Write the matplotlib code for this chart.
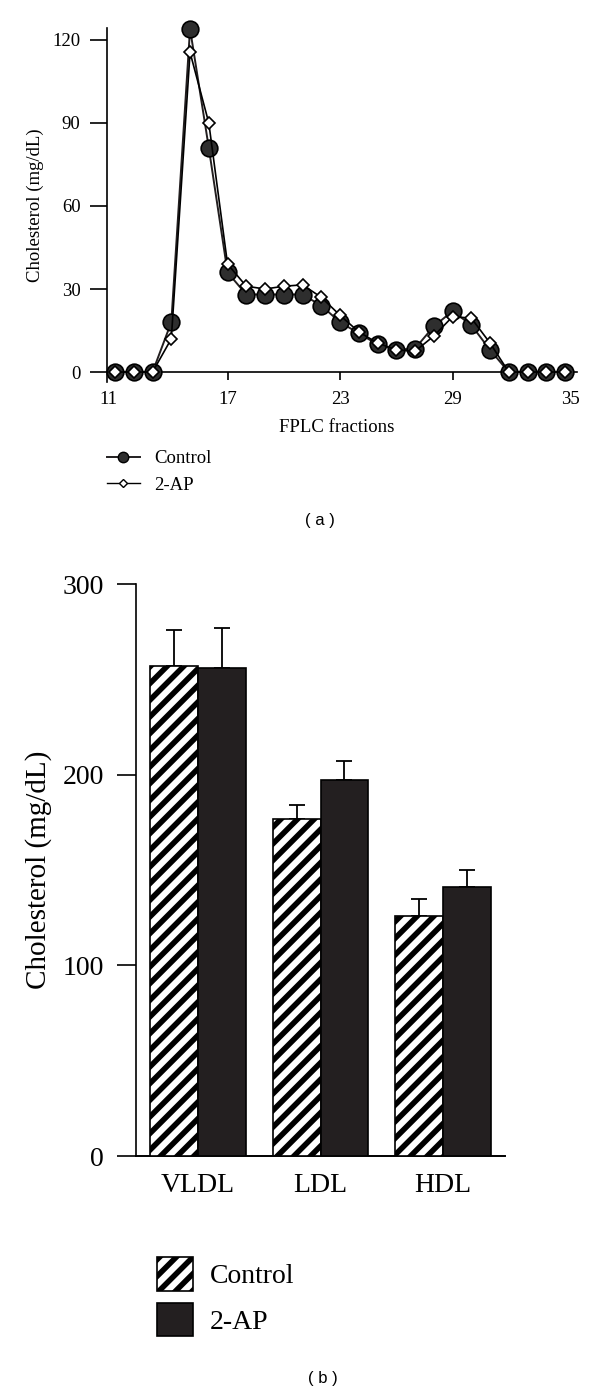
import numpy as np
import matplotlib
matplotlib.use('Agg')
import matplotlib.pyplot as plt
from matplotlib.lines import Line2D
from matplotlib.patches import Patch

# data section
fractions = np.arange(11, 36)
control_fplc = [0, 0, 0, 18, 124, 81, 36, 28, 28, 28, 28, 24, 18, 14, 10, 8,
                8.5, 16.5, 22, 17, 8, 0, 0, 0, 0]
ap_fplc = [0, 0, 0, 12, 115.5, 90, 39, 31, 30, 31, 31.5, 27, 20.5, 14.5, 10.5, 8,
           7.5, 13, 20, 19.5, 10.5, 0, 0, 0, 0]

classes = ['VLDL', 'LDL', 'HDL']
control_mean = [257, 177, 126]
control_err = [19, 7, 9]
ap_mean = [256, 197, 141]
ap_err = [21, 10, 9]

serif = 'Liberation Serif'
matplotlib.rc('font', family=serif)
matplotlib.rcParams['hatch.linewidth'] = 4.0
dark = '#231f20'

fig = plt.figure(figsize=(6, 13.94), dpi=100)
W, H = 600, 1394

def box(x0, y0, x1, y1):
    return [x0 / W, 1 - y1 / H, (x1 - x0) / W, (y1 - y0) / H]

# ---------------- panel (a) ----------------
ax1 = fig.add_axes(box(107, 28, 577, 382))
ax1.plot(fractions, control_fplc, '-o', color=dark, lw=1.4, ms=12,
         mfc='#2e2e2e', mec='black', mew=1.2, zorder=3, clip_on=False)
ax1.plot(fractions, ap_fplc, '-D', color='black', lw=1.2, ms=6.2,
         mfc='white', mec='black', mew=1.2, zorder=4, clip_on=False)
ax1.set_xlim(10.57, 35.64)
ax1.set_ylim(-3.6, 124.3)
for s in ['top', 'right']:
    ax1.spines[s].set_visible(False)
ax1.spines['bottom'].set_position(('data', 0))
ax1.spines['left'].set_linewidth(1.2)
ax1.spines['bottom'].set_linewidth(1.2)
ax1.set_yticks([0, 30, 60, 90, 120])
ax1.tick_params(axis='y', direction='out', length=12, width=1.2, labelsize=13.5, pad=7)
ax1.set_xticks([17, 23, 29])
ax1.set_xticks([10.65, 35.3], labels=['11', '35'], minor=True)
ax1.tick_params(axis='x', which='major', direction='out', length=6, width=1.2,
                labelsize=13.5, pad=8)
ax1.tick_params(axis='x', which='minor', length=0, labelsize=13.5, pad=14)
ax1.set_ylabel('Cholesterol (mg/dL)', fontsize=13.5, labelpad=6)
fig.text(337 / W, 1 - 428 / H, 'FPLC fractions', ha='center', va='center', fontsize=13.5)

h1 = [Line2D([], [], color=dark, lw=1.4, marker='o', ms=7.5, mfc='#2e2e2e', mec='black'),
      Line2D([], [], color='black', lw=1.0, marker='D', ms=4, mfc='white', mec='black')]
fig.legend(h1, ['Control', '2-AP'], loc='upper left', bbox_to_anchor=(107 / W, 1 - 450 / H),
           frameon=False, borderpad=0, borderaxespad=0, fontsize=13.5,
           handlelength=1.75, handletextpad=0.75, labelspacing=0.52)
fig.text(320 / W, 1 - 520 / H, '( a )', ha='center', va='center', fontsize=12,
         family='Liberation Sans')

# ---------------- panel (b) ----------------
ax2 = fig.add_axes(box(136, 584, 505, 1156))
x = np.arange(len(classes))
bw = 0.39
ax2.bar(x - bw / 2, control_mean, bw, color='white', edgecolor='black', hatch='//',
        lw=1.2, zorder=3)
ax2.bar(x + bw / 2, ap_mean, bw, color=dark, edgecolor='black', lw=1.2, zorder=3)
ax2.errorbar(x - bw / 2, control_mean, yerr=[np.zeros(3), control_err], fmt='none',
             ecolor='black', elinewidth=1.3, capsize=5.5, capthick=1.3, zorder=2)
ax2.errorbar(x + bw / 2, ap_mean, yerr=[np.zeros(3), ap_err], fmt='none',
             ecolor='black', elinewidth=1.3, capsize=5.5, capthick=1.3, zorder=2)
ax2.set_xlim(-0.506, 2.506)
ax2.set_ylim(0, 300)
for s in ['top', 'right']:
    ax2.spines[s].set_visible(False)
ax2.spines['left'].set_linewidth(1.2)
ax2.spines['bottom'].set_linewidth(1.4)
ax2.set_yticks([0, 100, 200, 300])
ax2.tick_params(axis='y', direction='out', length=13.5, width=1.2, labelsize=20, pad=9.5)
ax2.set_xticks(x, classes)
ax2.tick_params(axis='x', length=0, labelsize=20, pad=12)
ax2.set_ylabel('Cholesterol (mg/dL)', fontsize=21, labelpad=8)

h2 = [Patch(facecolor='white', edgecolor='black', hatch='//', lw=1.2),
      Patch(facecolor=dark, edgecolor='black', lw=1.2)]
fig.legend(h2, ['Control', '2-AP'], loc='upper left', bbox_to_anchor=(157 / W, 1 - 1257 / H),
           frameon=False, borderpad=0, borderaxespad=0, fontsize=20,
           handlelength=1.3, handleheight=1.5, handletextpad=0.6, labelspacing=0.42)
fig.text(323 / W, 1 - 1378 / H, '( b )', ha='center', va='center', fontsize=12,
         family='Liberation Sans')

fig.savefig('out.png', dpi=100, facecolor='white')
